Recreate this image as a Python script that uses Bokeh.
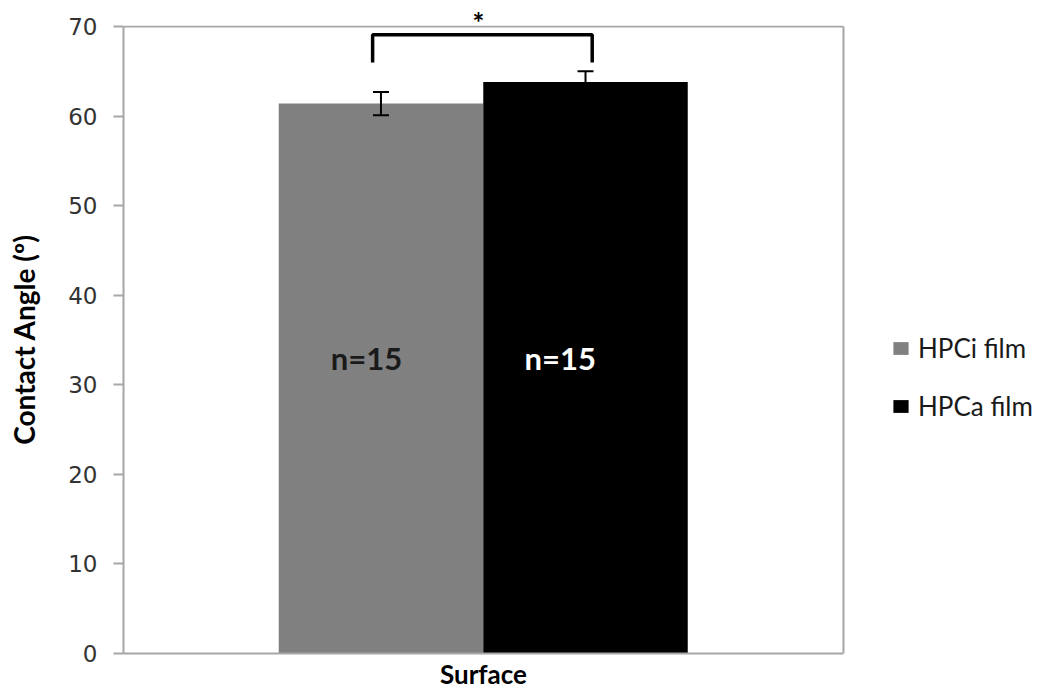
from bokeh.plotting import figure
from bokeh.models import (ColumnDataSource, Range1d, FixedTicker, Whisker, TeeHead,
                          Legend, LegendItem, LinearAxis)
from bokeh.core.properties import value
from bokeh.embed import file_html
from bokeh.resources import INLINE

# ---- data ----
category = "Surface"
groups = ["HPCi film", "HPCa film"]
means = [61.4, 63.8]
errors = [1.3, 1.2]
n_labels = ["n=15", "n=15"]
colors = ["#808080", "#000000"]
label_colors = ["#1a1a1a", "#ffffff"]
y_ticks = [0, 10, 20, 30, 40, 50, 60, 70]
y_max = 70
sig_mark = "*"
bracket_top = 69.1
bracket_bottom = 66.0
n_label_y = 33.0

# ---- layout (positions / styles) ----
group_center = 0.5
bar_width = 0.284
offsets = [-0.1424, 0.1417]
text_shift = [-0.02, -0.035]
bracket_x = [0.346, 0.651]
star_x = 0.493
frame_color = "#a6a6a6"

xs = [group_center + o for o in offsets]

p = figure(width=1044, height=692, x_range=Range1d(0, 1.2792), y_range=Range1d(0, 70.12),
           output_backend="svg", toolbar_location=None,
           min_border_left=123, min_border_right=0, min_border_top=25, min_border_bottom=38)
p.grid.visible = False
p.outline_line_color = None
p.background_fill_color = "white"
p.border_fill_color = "white"

src = ColumnDataSource(dict(x=xs, top=means, color=colors, group=groups,
                            upper=[m + e for m, e in zip(means, errors)],
                            lower=[m - e for m, e in zip(means, errors)]))

renderers = []
for i in range(len(groups)):
    r = p.vbar(x=[xs[i]], top=[means[i]], bottom=0, width=bar_width,
               fill_color=colors[i], line_color=None)
    renderers.append(r)

wh = Whisker(source=src, base="x", upper="upper", lower="lower", level="overlay",
             line_color="black", line_width=2,
             upper_head=TeeHead(size=16, line_color="black", line_width=2),
             lower_head=TeeHead(size=16, line_color="black", line_width=2))
p.add_layout(wh)

# plot-area frame (top and right edges)
p.segment(x0=[0, 1], y0=[y_max, 0], x1=[1, 1], y1=[y_max, y_max],
          line_color=frame_color, line_width=2)

# n labels
tsrc = ColumnDataSource(dict(x=[x + s for x, s in zip(xs, text_shift)],
                             y=[n_label_y] * len(groups), text=n_labels, color=label_colors))
p.text(x="x", y="y", text="text", source=tsrc, text_color="color",
       text_font=value("Lato"), text_font_style="bold", text_font_size="31px",
       text_align="center", text_baseline="middle")

# significance bracket
p.line(x=[bracket_x[0], bracket_x[0], bracket_x[1], bracket_x[1]],
       y=[bracket_bottom, bracket_top, bracket_top, bracket_bottom],
       line_color="black", line_width=3.5)

# significance star, drawn as the label of an axis above the plot area
top_axis = LinearAxis(ticker=FixedTicker(ticks=[star_x]),
                      major_label_overrides={star_x: sig_mark},
                      axis_line_color=None, major_tick_line_color=None,
                      minor_tick_line_color=None, major_tick_out=0, major_tick_in=0,
                      major_label_standoff=-13,
                      major_label_text_font="Lato", major_label_text_font_style="bold",
                      major_label_text_font_size="28px", major_label_text_color="black")
p.add_layout(top_axis, "above")

# axes
p.yaxis.bounds = (0, y_max)
p.yaxis.ticker = FixedTicker(ticks=y_ticks)
p.yaxis.axis_label = "Contact Angle (º)"
p.yaxis.axis_label_text_font = "Lato"
p.yaxis.axis_label_text_font_style = "bold"
p.yaxis.axis_label_text_font_size = "28px"
p.yaxis.axis_label_text_color = "black"
p.yaxis.axis_label_standoff = 24
p.yaxis.major_label_text_font = "DejaVu Sans"
p.yaxis.major_label_text_font_size = "23px"
p.yaxis.major_label_text_color = "#333333"
p.yaxis.major_label_standoff = 16
p.yaxis.major_tick_out = 10
p.yaxis.major_tick_in = 0
p.yaxis.minor_tick_line_color = None
p.yaxis.major_tick_line_color = frame_color
p.yaxis.major_tick_line_width = 2
p.yaxis.axis_line_color = frame_color
p.yaxis.axis_line_width = 2

p.below[0].bounds = (0, 1)
p.below[0].ticker = FixedTicker(ticks=[group_center])
p.below[0].major_label_overrides = {group_center: category}
p.below[0].major_label_text_font = "Lato"
p.below[0].major_label_text_font_style = "bold"
p.below[0].major_label_text_font_size = "26px"
p.below[0].major_label_text_color = "black"
p.below[0].major_label_standoff = 4
p.below[0].major_tick_out = 0
p.below[0].major_tick_in = 0
p.below[0].major_tick_line_color = None
p.below[0].minor_tick_line_color = None
p.below[0].axis_line_color = frame_color
p.below[0].axis_line_width = 2

legend = Legend(items=[LegendItem(label=groups[i], renderers=[renderers[i]]) for i in range(len(groups))],
                location=(768, 231), margin=0, padding=0, spacing=26,
                glyph_width=19, glyph_height=16, label_height=30, label_standoff=8,
                label_text_font="Lato", label_text_font_size="26px", label_text_color="#1a1a1a",
                border_line_color=None, background_fill_alpha=0)
p.add_layout(legend)

open("out.html", "w").write(file_html(p, INLINE))
